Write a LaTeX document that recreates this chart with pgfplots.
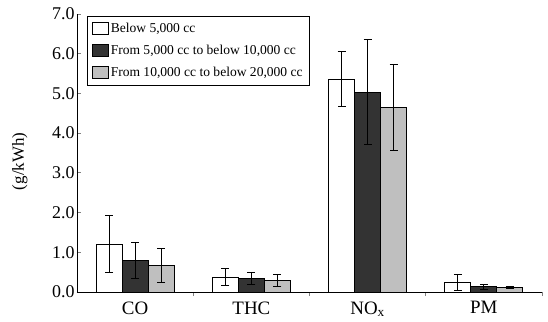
\documentclass[border=0pt]{standalone}
\usepackage{pgfplots}
\pgfplotsset{compat=1.18}
\usepackage{pgfplotstable}
\usepackage{fontspec}
\setmainfont{Liberation Serif}
\pgfplotstableread{
x val err
0 1.21 0.72
1 0.38 0.21
2 5.36 0.70
3 0.24 0.21
}\tA
\pgfplotstableread{
x val err
0 0.80 0.45
1 0.34 0.16
2 5.03 1.32
3 0.13 0.06
}\tB
\pgfplotstableread{
x val err
0 0.67 0.42
1 0.30 0.15
2 4.65 1.09
3 0.12 0.03
}\tC
\begin{document}
\begin{tikzpicture}
\path[use as bounding box] (-77bp,-30bp) rectangle (471bp,292bp);
\begin{axis}[
  scale only axis, width=465bp, height=278bp,
  xmin=-0.5, xmax=3.5, ymin=0, ymax=7,
  axis x line=bottom, axis y line=left,
  axis line style={-, line width=1pt},
  xtick={0,1,2,3},
  xticklabels={CO,THC,NO\textsubscript{x},PM},
  major x tick style={draw=none},
  minor xtick={0.5,1.5,2.5,3.5},
  minor tick length=4bp,
  minor x tick style={line width=0.8pt},
  ytick={0,1,...,7},
  major tick length=4bp,
  y tick style={line width=0.8pt},
  tick align=inside,
  /pgf/number format/assume math mode=true,
  /pgf/number format/fixed, /pgf/number format/fixed zerofill, /pgf/number format/precision=1,
  y tick label style={font=\fontsize{18}{20}\selectfont, xshift=1bp},
  x tick label style={font=\fontsize{19}{21}\selectfont, yshift=-2bp},
  ylabel={(g/kWh)},
  every axis y label/.style={at={(axis description cs:-0.123,0.47)}, rotate=90, anchor=center,
     font=\fontsize{17}{19}\selectfont},
  ybar=0pt, bar width=26bp,
  legend style={at={(rel axis cs:0.021,0.993)}, anchor=north west,
    draw=black, line width=0.8pt, font=\fontsize{13.6}{15}\selectfont,
    row sep=7bp, inner xsep=5bp, inner ysep=5bp, legend cell align=left},
  legend image code/.code={\draw[#1, line width=0.6pt] (0bp,-6bp) rectangle (16bp,6bp);},
  error bars/y dir=both, error bars/y explicit,
  error bars/error bar style={line width=1pt, black},
  error bars/error mark options={rotate=90, mark size=4bp, line width=1pt, black},
]
\addplot[draw=black, line width=0.8pt, fill=white] table[x=x, y=val, y error=err]{\tA};
\addplot[draw=black, line width=0.8pt, fill=black!80] table[x=x, y=val, y error=err]{\tB};
\addplot[draw=black, line width=0.8pt, fill=black!25] table[x=x, y=val, y error=err]{\tC};
\legend{{Below 5,000 cc},{From 5,000 cc to below 10,000 cc},{From 10,000 cc to below 20,000 cc}}
\end{axis}
\end{tikzpicture}
\end{document}
